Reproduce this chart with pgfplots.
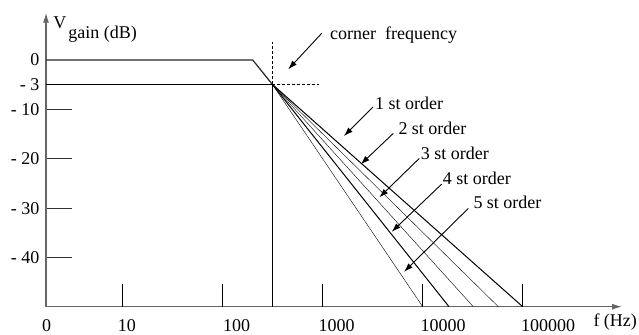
\documentclass[border=0pt]{standalone}
\usepackage{fontspec}
\setmainfont{Liberation Serif}
\usepackage{pgfplots}
\pgfplotsset{compat=1.18}
\usetikzlibrary{arrows.meta}
\begin{document}
\begin{tikzpicture}[font=\rmfamily\fontsize{18bp}{22bp}\selectfont,
  ann/.style={draw=black, line width=0.9bp, -{Latex[length=9bp,width=6bp]}}]
\begin{axis}[
  scale only axis, width=576bp, height=294bp,
  xmode=log, xmin=1.726, xmax=9.93e5, ymin=-49.9, ymax=9.57,
  axis lines=left,
  axis line style={draw=black!60, line width=1.2bp, -{Latex[length=10bp,width=6bp]}},
  clip=false,
  xtick={1.754,11.14,139.3,1393,16110,180800},
  xticklabels={0,10,100,1000,10000,100000},
  x tick label style={anchor=base, yshift=-25.3bp},
  xtick style={draw=none},
  ytick={-10,-20,-30,-40},
  yticklabels={- 10,- 20,- 30,- 40},
  extra y ticks={0,-4.92},
  extra y tick labels={0,- 3},
  extra y tick style={major tick length=0pt},
  y tick label style={anchor=east, xshift=-3bp},
  ytick style={draw=black!80, line width=1bp},
  major tick length=26bp, tick align=inside,
  cycle list={{black, line width=1bp, mark=none}},
]
% x tick marks
\addplot coordinates {(10,-49.9) (10,-45.24)};
\addplot coordinates {(100,-49.9) (100,-45.24)};
\addplot coordinates {(1000,-49.9) (1000,-45.24)};
\addplot coordinates {(10000,-49.9) (10000,-45.24)};
\addplot coordinates {(100000,-49.9) (100000,-45.24)};
% ideal / response lines
\addplot+[line width=1.2bp, draw=black!85] coordinates {(1.726,0) (201.4,0) (316.2,-4.92)};
\addplot coordinates {(1.726,-4.92) (316.2,-4.92)};
\addplot coordinates {(316.2,-4.92) (316.2,-49.9)};
\addplot+[dash pattern=on 3bp off 2bp] coordinates {(316.2,-4.92) (316.2,3.70)};
\addplot+[dash pattern=on 3bp off 2bp] coordinates {(316.2,-4.92) (933,-4.92)};
% filter orders (1st .. 5th)
\addplot coordinates {(316.2,-4.92) (100900,-49.9)};
\addplot coordinates {(316.2,-4.92) (57540,-49.9)};
\addplot coordinates {(316.2,-4.92) (32360,-49.9)};
\addplot coordinates {(316.2,-4.92) (18490,-49.9)};
\addplot coordinates {(316.2,-4.92) (10093,-49.9)};
% annotations
\draw[ann] (axis cs:986,5.40) -- (axis cs:457,-1.88);
\node[anchor=base west, inner sep=0] at (axis cs:1194,4.05) {corner\ \ frequency};
\draw[ann] (axis cs:3214,-9.51) -- (axis cs:1648,-15.38);
\node[anchor=base west, inner sep=0] at (axis cs:3365,-9.92) {1 st order};
\draw[ann] (axis cs:5129,-14.84) -- (axis cs:2421,-21.11);
\node[anchor=base west, inner sep=0] at (axis cs:5754,-15.00) {2 st order};
\draw[ann] (axis cs:9333,-19.90) -- (axis cs:3715,-27.79);
\node[anchor=base west, inner sep=0] at (axis cs:9638,-20.14) {3 st order};
\draw[ann] (axis cs:15630,-25.10) -- (axis cs:4943,-34.76);
\node[anchor=base west, inner sep=0] at (axis cs:16000,-25.10) {4 st order};
\draw[ann] (axis cs:28840,-30.02) -- (axis cs:6561,-42.85);
\node[anchor=base west, inner sep=0] at (axis cs:32360,-29.96) {5 st order};
\node[anchor=base west, inner sep=0] at (axis cs:512900,-54.0) {f (Hz)};
\node[anchor=base west, inner sep=0] at (axis cs:2.04,6.42) {V\kern2bp\lower10bp\hbox{gain (dB)}};
\coordinate (bbsw) at (rel axis cs:-0.07986,-0.09626);
\coordinate (bbne) at (rel axis cs:1.02951,1.04320);
\end{axis}
\pgfresetboundingbox
\path[use as bounding box] (bbsw) rectangle (bbne);
\end{tikzpicture}
\end{document}
